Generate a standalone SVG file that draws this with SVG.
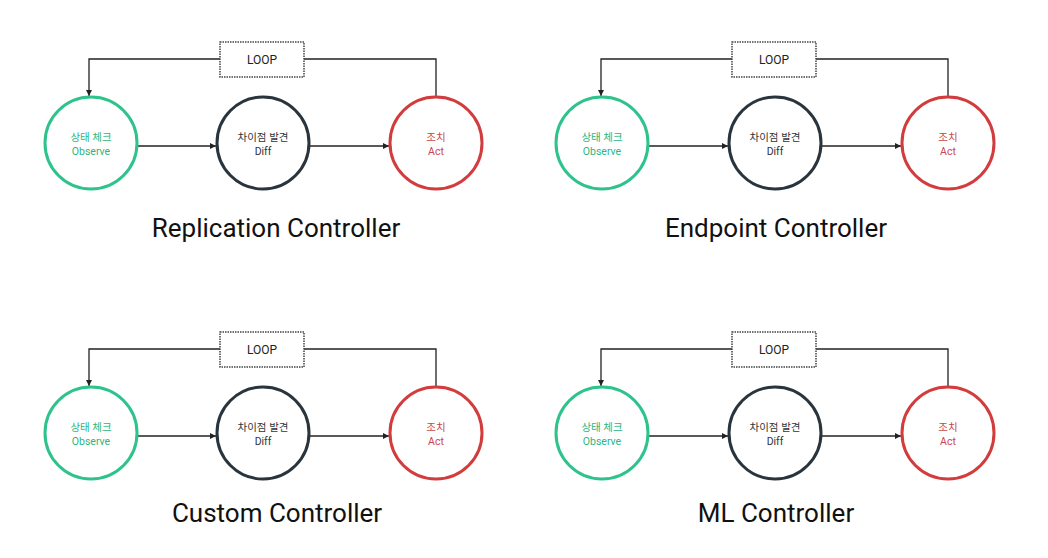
<svg xmlns="http://www.w3.org/2000/svg" width="1048" height="558" viewBox="0 0 1048 558">
<style>
.bg{fill:#ffffff}
.obs{fill:#fff;stroke:#2ec38c;stroke-width:3}
.dif{fill:#fff;stroke:#29343d;stroke-width:3}
.act{fill:#fff;stroke:#d33c3c;stroke-width:3}
.loopbox{fill:#fff;stroke:#444;stroke-width:1.5;stroke-dasharray:1.5 1}
.lbl{font-family:Roboto,"Noto Sans","Noto Sans CJK KR",sans-serif;font-size:10.5px;text-anchor:middle}
.tg{fill:#2bb57f}
.td{fill:#333}
.tr{fill:#c84747}
.loopt{font-family:Roboto,"Noto Sans",sans-serif;font-size:12px;fill:#222;text-anchor:middle}
.title{font-family:Roboto,"Noto Sans",sans-serif;font-size:26px;fill:#111;text-anchor:middle}
.con{fill:none;stroke:#222;stroke-width:1.3}
</style>
<defs>
<marker id="ah" markerWidth="8" markerHeight="8" refX="6" refY="3" orient="auto" markerUnits="userSpaceOnUse">
<path d="M0,0 L6,3 L0,6 Z" fill="#222"/>
</marker>
</defs>
<rect class="bg" x="0" y="0" width="1048" height="558"/>

<g id="connectors">
<path class="con" d="M137,146 H216" marker-end="url(#ah)"/>
<path class="con" d="M310,146 H389" marker-end="url(#ah)"/>
<path class="con" d="M220,59 H89 V96" marker-end="url(#ah)"/>
<path class="con" d="M436,97 V59 H304"/>

<path class="con" d="M649,146 H728" marker-end="url(#ah)"/>
<path class="con" d="M822,146 H901" marker-end="url(#ah)"/>
<path class="con" d="M732,59 H601 V96" marker-end="url(#ah)"/>
<path class="con" d="M948,97 V59 H816"/>

<path class="con" d="M137,436 H216" marker-end="url(#ah)"/>
<path class="con" d="M310,436 H389" marker-end="url(#ah)"/>
<path class="con" d="M220,349 H89 V386" marker-end="url(#ah)"/>
<path class="con" d="M436,387 V349 H304"/>

<path class="con" d="M649,436 H728" marker-end="url(#ah)"/>
<path class="con" d="M822,436 H901" marker-end="url(#ah)"/>
<path class="con" d="M732,349 H601 V386" marker-end="url(#ah)"/>
<path class="con" d="M948,387 V349 H816"/>
</g>

<!-- Panel 1 -->
<g id="p1-loop"><rect class="loopbox" x="220" y="42" width="84" height="35"/><text class="loopt" x="262" y="63.5">LOOP</text></g>
<g id="p1-observe"><circle class="obs" cx="91" cy="143" r="46"/><text class="lbl tg" x="91" y="141">상태 체크</text><text class="lbl tg" x="91" y="155">Observe</text></g>
<g id="p1-diff"><circle class="dif" cx="263" cy="143" r="46"/><text class="lbl td" x="263" y="141">차이점 발견</text><text class="lbl td" x="263" y="155">Diff</text></g>
<g id="p1-act"><circle class="act" cx="436" cy="143" r="46"/><text class="lbl tr" x="436" y="141">조치</text><text class="lbl tr" x="436" y="155">Act</text></g>
<g id="p1-title"><text class="title" x="276" y="237">Replication Controller</text></g>

<!-- Panel 2 -->
<g id="p2-loop"><rect class="loopbox" x="732" y="42" width="84" height="35"/><text class="loopt" x="774" y="63.5">LOOP</text></g>
<g id="p2-observe"><circle class="obs" cx="602" cy="143" r="46"/><text class="lbl tg" x="602" y="141">상태 체크</text><text class="lbl tg" x="602" y="155">Observe</text></g>
<g id="p2-diff"><circle class="dif" cx="775" cy="143" r="46"/><text class="lbl td" x="775" y="141">차이점 발견</text><text class="lbl td" x="775" y="155">Diff</text></g>
<g id="p2-act"><circle class="act" cx="948" cy="143" r="46"/><text class="lbl tr" x="948" y="141">조치</text><text class="lbl tr" x="948" y="155">Act</text></g>
<g id="p2-title"><text class="title" x="776" y="237">Endpoint Controller</text></g>

<!-- Panel 3 -->
<g id="p3-loop"><rect class="loopbox" x="220" y="332" width="84" height="35"/><text class="loopt" x="262" y="353.5">LOOP</text></g>
<g id="p3-observe"><circle class="obs" cx="91" cy="433" r="46"/><text class="lbl tg" x="91" y="431">상태 체크</text><text class="lbl tg" x="91" y="445">Observe</text></g>
<g id="p3-diff"><circle class="dif" cx="263" cy="433" r="46"/><text class="lbl td" x="263" y="431">차이점 발견</text><text class="lbl td" x="263" y="445">Diff</text></g>
<g id="p3-act"><circle class="act" cx="436" cy="433" r="46"/><text class="lbl tr" x="436" y="431">조치</text><text class="lbl tr" x="436" y="445">Act</text></g>
<g id="p3-title"><text class="title" x="277" y="522">Custom Controller</text></g>

<!-- Panel 4 -->
<g id="p4-loop"><rect class="loopbox" x="732" y="332" width="84" height="35"/><text class="loopt" x="774" y="353.5">LOOP</text></g>
<g id="p4-observe"><circle class="obs" cx="602" cy="433" r="46"/><text class="lbl tg" x="602" y="431">상태 체크</text><text class="lbl tg" x="602" y="445">Observe</text></g>
<g id="p4-diff"><circle class="dif" cx="775" cy="433" r="46"/><text class="lbl td" x="775" y="431">차이점 발견</text><text class="lbl td" x="775" y="445">Diff</text></g>
<g id="p4-act"><circle class="act" cx="948" cy="433" r="46"/><text class="lbl tr" x="948" y="431">조치</text><text class="lbl tr" x="948" y="445">Act</text></g>
<g id="p4-title"><text class="title" x="776" y="522">ML Controller</text></g>
</svg>
